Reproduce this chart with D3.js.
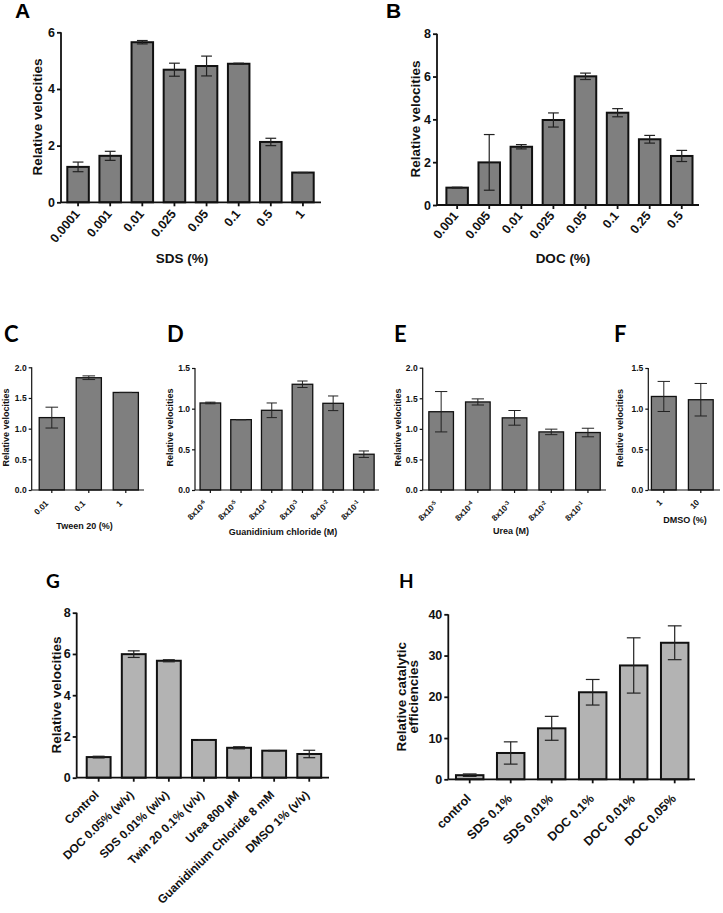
<!DOCTYPE html>
<html><head><meta charset="utf-8">
<script src="https://cdn.jsdelivr.net/npm/d3@7"></script>
<style>body{margin:0;background:#fff}svg{display:block}</style>
</head><body>
<svg id="fig" width="723" height="913"></svg>
<script>
// ---- data ----
const catsA = ["0.0001","0.001","0.01","0.025","0.05","0.1","0.5","1"];
const valsA = [1.25,1.64,5.65,4.68,4.81,4.89,2.13,1.05];
const errsA = [0.17,0.16,0.06,0.23,0.35,0.02,0.13,0];
const ticksA = [0,2,4,6];

const catsB = ["0.001","0.005","0.01","0.025","0.05","0.1","0.25","0.5"];
const valsB = [0.81,1.99,2.72,3.97,6.01,4.31,3.07,2.29];
const errsB = [0.02,1.3,0.1,0.33,0.15,0.19,0.18,0.26];
const ticksB = [0,2,4,6,8];

const catsC = ["0.01","0.1","1"];
const valsC = [1.18,1.83,1.59];
const errsC = [0.17,0.03,0];
const ticksC = [0,0.5,1.0,1.5,2.0];

const catsD = [["8x10","-6"],["8x10","-5"],["8x10","-4"],["8x10","-3"],["8x10","-2"],["8x10","-1"]];
const valsD = [1.07,0.865,0.98,1.30,1.066,0.44];
const errsD = [0.01,0,0.09,0.04,0.09,0.04];
const ticksD = [0,0.5,1.0,1.5];

const catsE = [["8x10","-5"],["8x10","-4"],["8x10","-3"],["8x10","-2"],["8x10","-1"]];
const valsE = [1.28,1.44,1.18,0.95,0.94];
const errsE = [0.33,0.05,0.12,0.045,0.07];
const ticksE = [0,0.5,1.0,1.5,2.0];

const catsF = ["1","10"];
const valsF = [1.15,1.11];
const errsF = [0.185,0.2];
const ticksF = [0,0.5,1.0,1.5];

const catsG = ["Control","DOC 0.05% (w/v)","SDS 0.01% (w/v)","Twin 20 0.1% (v/v)","Urea 800 µM","Guanidinium Chloride 8 mM","DMSO 1% (v/v)"];
const valsG = [1.0,5.99,5.67,1.83,1.45,1.31,1.15];
const errsG = [0.04,0.16,0.05,0.01,0.05,0.01,0.18];
const ticksG = [0,2,4,6,8];

const catsH = ["control","SDS 0.1%","SDS 0.01%","DOC 0.1%","DOC 0.01%","DOC 0.05%"];
const valsH = [1.0,6.38,12.36,21.1,27.6,33.1];
const errsH = [0.3,2.7,2.9,3.1,6.7,4.1];
const ticksH = [0,10,20,30,40];

// ---- drawing ----
const svg = d3.select("#fig");
const ARIAL = "'Liberation Sans', Arial, sans-serif";
const CAL = "Lato, 'Open Sans', sans-serif";

function panel(c) {
  const g = svg.append("g");
  const x = d3.scaleBand().domain(d3.range(c.cats.length)).range(c.xr)
    .paddingInner(c.pad).paddingOuter(c.pad/2);
  const y = d3.scaleLinear().domain([0, c.ymax]).range([c.y0, c.ytop]);
  const bw = x.bandwidth();
  g.selectAll("rect.bar").data(c.vals).join("rect")
    .attr("x", (d,i)=>x(i)).attr("width", bw)
    .attr("y", d=>y(d)).attr("height", d=>c.y0 - y(d))
    .attr("fill", c.fill).attr("stroke", "#111").attr("stroke-width", c.sw);
  const cw = bw*0.5;
  c.vals.forEach((v,i)=>{
    const e = c.errs[i]; const cx = x(i)+bw/2;
    const eg = g.append("g").attr("stroke","#222").attr("stroke-width",c.ew);
    eg.append("line").attr("x1",cx).attr("x2",cx).attr("y1",y(v+e)).attr("y2",y(v-e));
    eg.append("line").attr("x1",cx-cw/2).attr("x2",cx+cw/2).attr("y1",y(v+e)).attr("y2",y(v+e));
    eg.append("line").attr("x1",cx-cw/2).attr("x2",cx+cw/2).attr("y1",y(v-e)).attr("y2",y(v-e));
  });
  const ya = g.append("g").attr("transform",`translate(${c.left},0)`)
    .call(d3.axisLeft(y).tickValues(c.ticks).tickFormat(c.fmt).tickSize(c.tk).tickPadding(2).tickSizeOuter(0));
  ya.select(".domain").remove();
  ya.selectAll(".tick line").attr("stroke","#111").attr("stroke-width",c.aw);
  ya.selectAll("text").attr("font-family",ARIAL).attr("font-weight","bold").attr("font-size",c.tf).attr("fill","#111");
  g.append("line").attr("x1",c.left).attr("x2",c.left).attr("y1",c.ytop).attr("y2",c.y0)
    .attr("stroke","#111").attr("stroke-width",c.aw);
  const xa = g.append("g").attr("transform",`translate(0,${c.y0})`)
    .call(d3.axisBottom(x).tickSize(c.tk).tickFormat("").tickSizeOuter(0));
  xa.select(".domain").remove();
  xa.selectAll(".tick line").attr("stroke","#111").attr("stroke-width",c.aw);
  g.append("line").attr("x1",c.left).attr("x2",c.axEnd).attr("y1",c.y0).attr("y2",c.y0)
    .attr("stroke","#111").attr("stroke-width",c.aw);
  c.cats.forEach((lab,i)=>{
    const cx = x(i)+bw/2, ty = c.y0 + c.lo;
    const t = g.append("text")
      .attr("transform",`translate(${cx+c.lx},${ty}) rotate(${c.ang})`)
      .attr("text-anchor","end").attr("dy","0.35em")
      .attr("font-family",ARIAL).attr("font-weight","bold").attr("font-size",c.xf).attr("fill","#111");
    if (Array.isArray(lab)) {
      t.append("tspan").text(lab[0]);
      t.append("tspan").attr("font-size",c.xf*0.7).attr("dy",-c.xf*0.35).text(lab[1]);
    } else t.text(lab);
  });
  if (c.xt) g.append("text").attr("x",c.xt[1]).attr("y",c.xt[2]).attr("text-anchor","middle")
    .attr("dy","0.35em").attr("font-family",ARIAL).attr("font-weight","bold")
    .attr("font-size",c.lf).attr("fill","#111").text(c.xt[0]);
  const yl = g.append("text").attr("transform",`translate(${c.yt[1]},${c.yt[2]}) rotate(-90)`)
    .attr("text-anchor","middle").attr("font-family",ARIAL).attr("font-weight","bold")
    .attr("font-size",c.lf).attr("fill","#111");
  if (Array.isArray(c.yt[0])) {
    c.yt[0].forEach((s,k)=>yl.append("tspan").attr("x",0).attr("dy",k? c.lf*0.95 : -c.lf*0.1).text(s));
  } else yl.attr("dy","0.35em").text(c.yt[0]);
  svg.append("text").attr("x",c.L[1]).attr("y",c.L[2]).attr("font-family",c.L[4]||CAL)
    .attr("font-weight","bold").attr("font-size",c.L[3]).attr("fill","#000").text(c.L[0]);
}

const f0 = d3.format("d"), f1 = d3.format(".1f");
const dark = "#7f7f7f", light = "#b3b3b3";

panel({cats:catsA, vals:valsA, errs:errsA, ticks:ticksA, fmt:f0, ymax:6, ytop:32.3, y0:202.3,
  left:61, xr:[62,319], axEnd:321, pad:0.33, fill:dark, sw:2, ew:1.2, aw:1.8, tk:4, tf:12.5, xf:12.5, lf:13.5, lo:9, lx:-1, ang:-50,
  xt:["SDS (%)",182,258], yt:["Relative velocities",37,117], L:["A",15,18,21,ARIAL]});
panel({cats:catsB, vals:valsB, errs:errsB, ticks:ticksB, fmt:f0, ymax:8, ytop:33.7, y0:205,
  left:437, xr:[441.1,697.8], axEnd:699, pad:0.33, fill:dark, sw:2, ew:1.2, aw:1.8, tk:4, tf:12.5, xf:12.5, lf:13.5, lo:8, lx:-1.5, ang:-50,
  xt:["DOC (%)",563,258], yt:["Relative velocities",415,119], L:["B",386,18,21,ARIAL]});
panel({cats:catsC, vals:valsC, errs:errsC, ticks:ticksC, fmt:f1, ymax:2, ytop:367.3, y0:490,
  left:31.7, xr:[33.3,144.3], axEnd:144, pad:0.32, fill:dark, sw:1.3, ew:1, aw:1.2, tk:3, tf:8.5, xf:8.2, lf:9, lo:12, lx:-5, ang:-45,
  xt:["Tween 20 (%)",84.5,526], yt:["Relative velocities",6,427.5], L:["C",4,342,22]});
panel({cats:catsD, vals:valsD, errs:errsD, ticks:ticksD, fmt:f1, ymax:1.5, ytop:368, y0:490,
  left:195, xr:[195,379.2], axEnd:379, pad:0.33, fill:dark, sw:1.3, ew:1, aw:1.2, tk:3, tf:8.5, xf:8.2, lf:9, lo:12, lx:-5, ang:-45,
  xt:["Guanidinium chloride (M)",283,532], yt:["Relative velocities",170,427.5], L:["D",167,342,22]});
panel({cats:catsE, vals:valsE, errs:errsE, ticks:ticksE, fmt:f1, ymax:2, ytop:367.7, y0:490,
  left:422.7, xr:[422.8,606.3], axEnd:606, pad:0.33, fill:dark, sw:1.3, ew:1, aw:1.2, tk:3, tf:8.5, xf:8.2, lf:9, lo:13, lx:-5, ang:-45,
  xt:["Urea (M)",511,531], yt:["Relative velocities",398.3,427.5], L:["E",394,342,22]});
panel({cats:catsF, vals:valsF, errs:errsF, ticks:ticksF, fmt:f1, ymax:1.5, ytop:368, y0:490,
  left:648.3, xr:[645.3,719.3], axEnd:720, pad:0.33, fill:dark, sw:1.3, ew:1, aw:1.2, tk:3, tf:8.5, xf:8.2, lf:9, lo:11, lx:-3, ang:-45,
  xt:["DMSO (%)",685,520], yt:["Relative velocities",620,428], L:["F",614,342,22]});
panel({cats:catsG, vals:valsG, errs:errsG, ticks:ticksG, fmt:f0, ymax:8, ytop:612.7, y0:777.7,
  left:76.7, xr:[81.1,326.8], axEnd:329, pad:0.32, fill:light, sw:2, ew:1.2, aw:1.8, tk:4, tf:12.5, xf:11.8, lf:13.5, lo:15, lx:-2, ang:-44,
  xt:null, yt:["Relative velocities",56,695], L:["G",46,588,19]});
panel({cats:catsH, vals:valsH, errs:errsH, ticks:ticksH, fmt:f0, ymax:40, ytop:614.3, y0:779.3,
  left:448.3, xr:[449.2,695.2], axEnd:695, pad:0.33, fill:light, sw:2, ew:1.2, aw:1.8, tk:4, tf:12.5, xf:12.5, lf:13.5, lo:17, lx:-1, ang:-45,
  xt:null, yt:[["Relative catalytic","efficiencies"],407,696.7], L:["H",399,588,19]});
</script>
</body></html>
